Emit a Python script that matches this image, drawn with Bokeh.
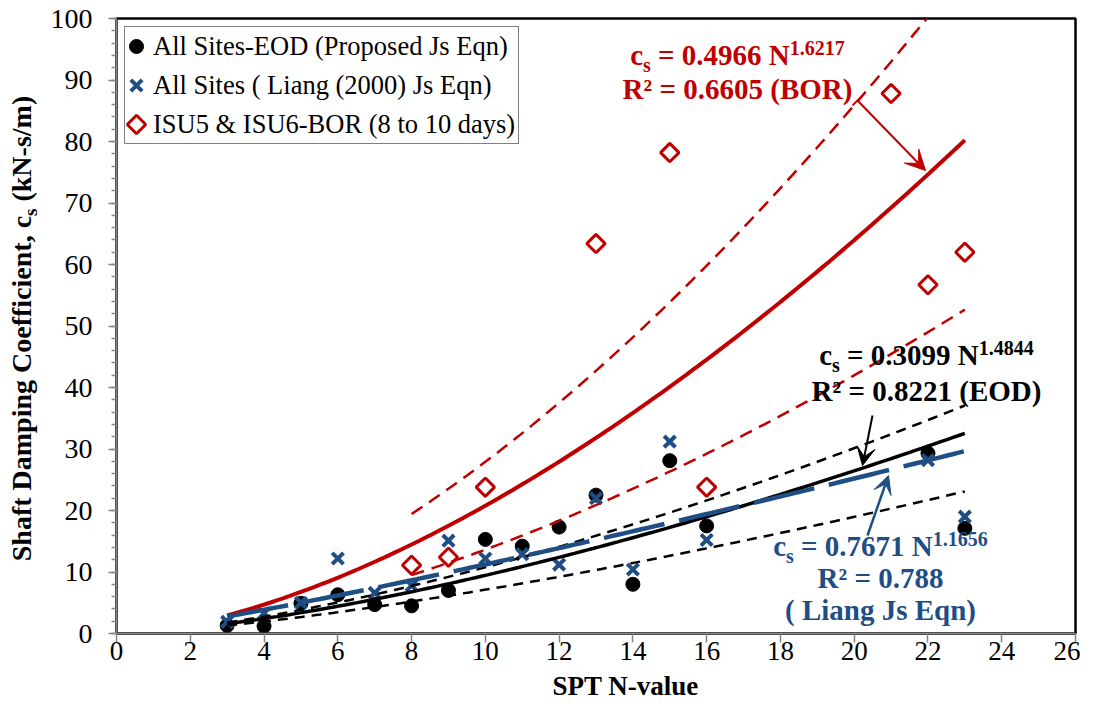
import numpy as np
from bokeh.plotting import figure
from bokeh.layouts import row, column
from bokeh.models import Range1d, Legend, LegendItem, Label, Arrow, VeeHead, TeeHead, FixedTicker
from bokeh.embed import file_html
from bokeh.resources import INLINE

# ---------------- data ----------------
n_eod = [3, 4, 5, 6, 7, 8, 9, 10, 11, 12, 13, 14, 15, 16, 22, 23]
cs_eod = [1.3, 1.2, 4.9, 6.3, 4.7, 4.5, 7.0, 15.3, 14.2, 17.3, 22.5, 8.0, 28.1, 17.5, 29.3, 17.1]

n_liang = [3, 4, 5, 6, 7, 8, 9, 10, 11, 12, 13, 14, 15, 16, 22, 23]
cs_liang = [1.9, 3.3, 5.0, 12.2, 6.6, 7.8, 15.1, 12.2, 12.9, 11.2, 22.0, 10.4, 31.2, 15.2, 28.2, 19.0]

n_bor = [8, 9, 10, 13, 15, 16, 21, 22, 23]
cs_bor = [11.1, 12.4, 23.8, 63.4, 78.2, 23.8, 87.8, 56.7, 62.0]

x_ticks = [0, 2, 4, 6, 8, 10, 12, 14, 16, 18, 20, 22, 24, 26]
y_ticks = [0, 10, 20, 30, 40, 50, 60, 70, 80, 90, 100]
y_minor = list(range(0, 101, 2))

# power-law trendlines  cs = a * N^b  (as printed on the chart)
fit_eod = (0.3099, 1.4844)
fit_liang = (0.7671, 1.1656)
fit_bor = (0.4966, 1.6217)
# dashed bounds
band_eod_up = (0.353, 1.4844)
band_eod_lo = (0.276, 1.412)
band_bor_up = (0.667, 1.6217)
band_bor_lo = (0.326, 1.6217)
fit_range = (3, 23)
bor_band_range = (8, 23)

legend_labels = ["All Sites-EOD (Proposed Js Eqn)",
                 "All Sites ( Liang (2000) Js Eqn)",
                 "ISU5 & ISU6-BOR (8 to 10 days)"]
x_title = "SPT N-value"
y_title_parts = ["Shaft Damping Coefficient, c", "s", "(kN-s/m)"]

RED = "#C00000"
BLUE = "#1F4E85"
BLACK = "#000000"
GRAY = "#868686"
FONT = "Liberation Serif"

# Times-Bold advance widths (per 1000 em) for text layout
TB = {' ': 250, '(': 333, ')': 333, ',': 250, '-': 333, '.': 250, '/': 278, '=': 570, '\u00b2': 300,
      'B': 667, 'C': 722, 'D': 722, 'E': 667, 'J': 500, 'L': 667, 'N': 722, 'O': 778, 'P': 611,
      'R': 722, 'S': 556, 'T': 667,
      'a': 500, 'c': 444, 'e': 444, 'f': 333, 'g': 500, 'h': 556, 'i': 278, 'k': 556, 'l': 278,
      'm': 833, 'n': 556, 'o': 500, 'p': 556, 'q': 556, 's': 389, 't': 333, 'u': 556, 'v': 500}
for d in "0123456789":
    TB[d] = 500
BSH = 0.37   # Label "alphabetic" anchor sits this many em above the drawn baseline


def tw(s, size):
    return sum(TB.get(c, 500) for c in s) / 1000.0 * size


# picture pixel -> main-plot data (frame: x 0..26 over 116..1075, y 0..100 over 633..18)
XS = 959.0 / 26.0
YS = 615.0 / 100.0


def px2x(px):
    return (px - 116.0) / XS


def py2y(py):
    return (633.0 - py) / YS


def curve(coef, rng, n=120):
    x = np.linspace(rng[0], rng[1], n)
    return x, coef[0] * x ** coef[1]


TOTAL_W, TOTAL_H = 1080, 701
LEFT_W = 46          # strip holding the rotated y title
MAIN_H = 671         # main plot height; strip below holds the x title
BOT_H = TOTAL_H - MAIN_H
MAIN_W = TOTAL_W - LEFT_W

# ---------------- main figure ----------------
p = figure(width=MAIN_W, height=MAIN_H, output_backend="svg", toolbar_location=None,
           x_range=Range1d(0, 26), y_range=Range1d(0, 100),
           min_border_left=116 - LEFT_W, min_border_right=MAIN_W - (1075 - LEFT_W),
           min_border_top=18, min_border_bottom=MAIN_H - 633)
p.grid.visible = False
p.outline_line_color = BLACK
p.outline_line_width = 2.5
p.background_fill_color = "white"
p.border_fill_color = "white"

xa = p.xaxis[0]
xa.ticker = FixedTicker(ticks=x_ticks)
xa.major_tick_in = 0
xa.major_tick_out = 9
xa.minor_tick_in = 0
xa.minor_tick_out = 0
xa.axis_line_color = GRAY
xa.axis_line_width = 1.5
xa.major_tick_line_color = GRAY
xa.major_tick_line_width = 1.5
xa.major_label_text_font = FONT
xa.major_label_text_font_size = "27px"
xa.major_label_text_color = BLACK
xa.major_label_standoff = -1

ya = p.yaxis[0]
ya.ticker = FixedTicker(ticks=y_ticks, minor_ticks=y_minor)
ya.major_tick_in = 0
ya.major_tick_out = 8
ya.minor_tick_in = 0
ya.minor_tick_out = 5
ya.axis_line_color = GRAY
ya.axis_line_width = 1.5
ya.major_tick_line_color = GRAY
ya.major_tick_line_width = 1.5
ya.minor_tick_line_color = GRAY
ya.minor_tick_line_width = 1.5
ya.major_label_text_font = FONT
ya.major_label_text_font_size = "28px"
ya.major_label_text_color = BLACK
ya.major_label_standoff = 16

# ---------------- markers ----------------
MK_EOD = dict(marker="circle", size=14, fill_color=BLACK, line_color=BLACK)
MK_LIANG = dict(marker="x", size=16, line_color=BLUE, line_width=4)
MK_BOR = dict(marker="square", angle=np.pi / 4, size=13, fill_color=None, line_color=RED, line_width=3)

r_eod = p.scatter(n_eod, cs_eod, **MK_EOD)
r_liang = p.scatter(n_liang, cs_liang, **MK_LIANG)
r_bor = p.scatter(n_bor, cs_bor, **MK_BOR)

# ---------------- trendlines ----------------
x, y = curve(band_bor_up, bor_band_range)
p.line(x, y, line_color=RED, line_width=2.5, line_dash="13 8")
x, y = curve(band_bor_lo, bor_band_range)
p.line(x, y, line_color=RED, line_width=2.5, line_dash="13 8")
x, y = curve(band_eod_up, fit_range)
p.line(x, y, line_color=BLACK, line_width=2.5, line_dash="10 7")
x, y = curve(band_eod_lo, fit_range)
p.line(x, y, line_color=BLACK, line_width=2.5, line_dash="10 7")
x, y = curve(fit_bor, fit_range)
p.line(x, y, line_color=RED, line_width=4)
x, y = curve(fit_eod, fit_range)
p.line(x, y, line_color=BLACK, line_width=3.5)
x, y = curve(fit_liang, fit_range)
p.line(x, y, line_color=BLUE, line_width=4.5, line_dash="62 15")

# ---------------- legend ----------------
# legend geometry (pixels): box top-left at frame + margin; rows of LEG_ROW px, pitch LEG_ROW+LEG_SP
LEG_MARGIN, LEG_PAD, LEG_ROW, LEG_SP, LEG_GLYPH = 8, 3, 32, 7, 20

# the legend's own swatches are drawn from invisible twins of the real glyphs,
# and full-size swatches (rotated diamond included) are drawn underneath the legend
ghosts = []
for mk, xs_, ys_ in ((MK_EOD, n_eod, cs_eod), (MK_LIANG, n_liang, cs_liang), (MK_BOR, n_bor, cs_bor)):
    g = p.scatter(xs_[:1], ys_[:1], **mk)
    g.glyph.fill_alpha = 0.0
    g.glyph.line_alpha = 0.0
    ghosts.append(g)

legend = Legend(items=[LegendItem(label=lab, renderers=[g]) for lab, g in zip(legend_labels, ghosts)],
                location="top_left", margin=LEG_MARGIN, padding=LEG_PAD, spacing=LEG_SP,
                glyph_width=LEG_GLYPH, glyph_height=LEG_GLYPH, label_standoff=5,
                label_height=LEG_ROW,
                label_text_font=FONT, label_text_font_size="26.5px", label_text_color=BLACK,
                border_line_color=BLACK, border_line_width=1.5,
                background_fill_alpha=0.0, item_background_fill_alpha=0.0)
p.add_layout(legend)

sw_x = px2x(116 + LEG_MARGIN + LEG_PAD + LEG_GLYPH / 2.0 - 1)
for i, mk in enumerate((MK_EOD, MK_LIANG, MK_BOR)):
    sw_py = 18 + LEG_MARGIN + LEG_PAD + i * (LEG_ROW + LEG_SP) + LEG_ROW / 2.0 + 1
    p.scatter([sw_x], [py2y(sw_py)], **mk)


# ---------------- equation annotations ----------------
def label(fig, xd, yd, text, size, color, align="left", angle=0.0):
    fig.add_layout(Label(x=xd, y=yd, text=text, text_font=FONT, text_font_style="bold",
                         text_font_size="%dpx" % size, text_color=color, text_align=align,
                         text_baseline="alphabetic", angle=angle))


MAIN, SUB, SUP = 29, 20, 20


def eq_line(cx, base, coef, expo, color):
    # (text, size, vertical shift, gap before)
    pieces = [("c", MAIN, 0, 0.0), ("s", SUB, 7, 0.0),
              ("= %s N" % coef, MAIN, 0, tw(" ", MAIN)), (expo, SUP, -10, 0.0)]
    total = sum(tw(t, s) + g for t, s, _, g in pieces)
    xpos = cx - total / 2.0
    for t, s, dy, g in pieces:
        xpos += g
        label(p, px2x(xpos), py2y(base + dy - BSH * s), t, s, color)
        xpos += tw(t, s)


def center_line(cx, base, text, color):
    label(p, px2x(cx), py2y(base - BSH * MAIN), text, MAIN, color, align="center")


# BOR (red)
eq_line(737, 65, "0.4966", "1.6217", RED)
center_line(737, 99, "R\u00b2 = 0.6605 (BOR)", RED)
# EOD (black)
eq_line(926, 365, "0.3099", "1.4844", BLACK)
center_line(926, 401, "R\u00b2 = 0.8221 (EOD)", BLACK)
# Liang (blue)
eq_line(880, 556, "0.7671", "1.1656", BLUE)
center_line(880, 588, "R\u00b2 = 0.788", BLUE)
center_line(880, 620, "( Liang Js Eqn)", BLUE)

# arrows
p.add_layout(Arrow(x_start=px2x(857), y_start=py2y(100), x_end=px2x(925), y_end=py2y(170),
                   line_color=RED, line_width=2,
                   start=TeeHead(size=14, line_color=RED, line_width=2),
                   end=VeeHead(size=20, fill_color=RED, line_color=RED)))
p.add_layout(Arrow(x_start=px2x(872), y_start=py2y(415), x_end=px2x(862), y_end=py2y(465),
                   line_color=BLACK, line_width=2,
                   end=VeeHead(size=18, fill_color=BLACK, line_color=BLACK)))
p.add_layout(Arrow(x_start=px2x(867), y_start=py2y(535), x_end=px2x(888), y_end=py2y(475),
                   line_color=BLUE, line_width=2.5,
                   end=VeeHead(size=18, fill_color=BLUE, line_color=BLUE)))


# ---------------- title strips ----------------
def strip(w, h, xr, yr):
    f = figure(width=w, height=h, output_backend="svg", toolbar_location=None,
               x_range=Range1d(*xr), y_range=Range1d(*yr),
               min_border_left=0, min_border_right=0, min_border_top=0, min_border_bottom=0,
               x_axis_type=None, y_axis_type=None)
    f.grid.visible = False
    f.outline_line_color = None
    f.background_fill_color = "white"
    f.border_fill_color = "white"
    return f


# left strip: x = picture pixels, y = picture pixels flipped
left = strip(LEFT_W, TOTAL_H, (0, LEFT_W), (0, TOTAL_H))
YL, YSUB = 28, 19
parts = [(y_title_parts[0], YL, 0, 0.0), (y_title_parts[1], YSUB, 6, 0.0),
         (y_title_parts[2], YL, 0, tw(" ", YL))]
total = sum(tw(t, s) + g for t, s, _, g in parts)
along = 328 + total / 2.0
for t, s, off, g in parts:
    along -= g
    label(left, 31 + off - BSH * s, TOTAL_H - along, t, s, BLACK, angle=np.pi / 2)
    along -= tw(t, s)

# bottom strip: x = picture pixels, y = picture pixels flipped (strip covers MAIN_H..701)
XT = 27
bottom = strip(MAIN_W, BOT_H, (LEFT_W, TOTAL_W), (0, BOT_H))
label(bottom, 595, TOTAL_H - (695 - BSH * XT), x_title, XT, BLACK, align="center")

layout = row(left, column(p, bottom, spacing=0), spacing=0)
open("out.html", "w").write(file_html(layout, INLINE))
